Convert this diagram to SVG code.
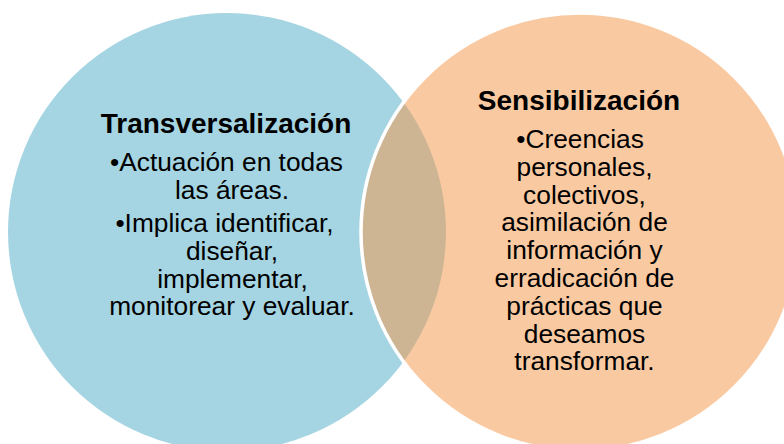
<svg xmlns="http://www.w3.org/2000/svg" width="784" height="444" viewBox="0 0 784 444">
  <style>
    .title { font-family: "Liberation Sans", Arial, sans-serif; font-weight: bold; font-size: 28px; fill: #000; text-anchor: middle; }
    .body { font-family: "Liberation Sans", Arial, sans-serif; font-size: 26.3px; fill: #000; text-anchor: middle; }
  </style>
  <defs>
    <clipPath id="leftClip">
      <circle cx="227" cy="232" r="219"/>
    </clipPath>
  </defs>
  <rect width="784" height="444" fill="#ffffff"/>
  <g id="transversalizacion">
    <circle cx="227" cy="232" r="219" fill="#A5D5E2"/>
  </g>
  <g id="sensibilizacion">
    <circle cx="580" cy="232" r="219" fill="#F9CAA2"/>
  </g>
  <g id="overlap">
    <circle cx="580" cy="232" r="219" fill="#CDB594" clip-path="url(#leftClip)"/>
    <circle cx="580" cy="232" r="219" fill="none" stroke="#ffffff" stroke-width="3.5"/>
  </g>
  <g id="transversalizacion-text">
    <text class="title" x="226" y="133">Transversalización</text>
    <text class="body" x="226.5" y="171">•Actuación en todas</text>
    <text class="body" x="232" y="198.5">las áreas.</text>
    <text class="body" x="224.5" y="232">•Implica identificar,</text>
    <text class="body" x="232" y="259.8">diseñar,</text>
    <text class="body" x="232.5" y="287.6">implementar,</text>
    <text class="body" x="232" y="315.4">monitorear y evaluar.</text>
  </g>
  <g id="sensibilizacion-text">
    <text class="title" x="579" y="110">Sensibilización</text>
    <text class="body" x="580" y="148">•Creencias</text>
    <text class="body" x="584.5" y="175.8">personales,</text>
    <text class="body" x="584.5" y="203.6">colectivos,</text>
    <text class="body" x="584.5" y="231.4">asimilación de</text>
    <text class="body" x="584.5" y="259.2">información y</text>
    <text class="body" x="584.5" y="287">erradicación de</text>
    <text class="body" x="584.5" y="314.8">prácticas que</text>
    <text class="body" x="584.5" y="342.6">deseamos</text>
    <text class="body" x="584.5" y="370.4">transformar.</text>
  </g>
  <g id="connectors"></g>
</svg>
